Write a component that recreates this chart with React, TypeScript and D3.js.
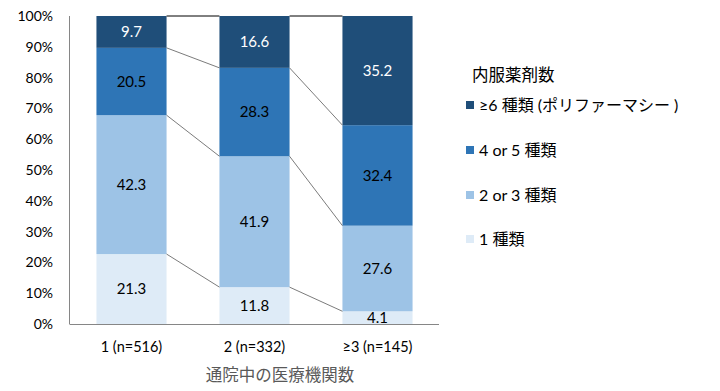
import React from "react";
import * as d3 from "d3";

const categories = ["1 (n=516)", "2 (n=332)", "≥3 (n=145)"];
const seriesNames = ["1 種類", "2 or 3 種類", "4 or 5 種類", "≥6 種類 (ポリファーマシー )"];
const s1 = [21.3, 11.8, 4.1];
const s2 = [42.3, 41.9, 27.6];
const s3 = [20.5, 28.3, 32.4];
const s4 = [9.7, 16.6, 35.2];
const yTicks = [0, 0.1, 0.2, 0.3, 0.4, 0.5, 0.6, 0.7, 0.8, 0.9, 1];
const colors = ["#DEEBF7", "#9DC3E6", "#2E75B6", "#1F4E79"];
const labelColors = ["#000", "#000", "#000", "#fff"];
const legendTitle = "内服薬剤数";
const xTitle = "通院中の医療機関数";

const W = 720, H = 391;
const left = 70, right = 439, top = 16, bottom = 324;
const FONT = "Lato, 'Noto Sans CJK JP', sans-serif";

export default function App() {
  const seriesVals = [s1, s2, s3, s4];
  const rows = categories.map((c, i) => {
    const r: any = { cat: c };
    seriesNames.forEach((s, j) => (r[s] = seriesVals[j][i]));
    return r;
  });
  const stacked = d3.stack().keys(seriesNames).offset(d3.stackOffsetExpand)(rows);
  const x = d3.scaleBand().domain(categories).range([left, right]).paddingInner(0.43).paddingOuter(0.215);
  const y = d3.scaleLinear().domain([0, 1]).range([bottom, top]);
  const bw = x.bandwidth();

  const lines: any[] = [];
  stacked.forEach((ser, si) => {
    for (let i = 0; i < categories.length - 1; i++) {
      lines.push({
        x1: (x(categories[i]) as number) + bw,
        y1: y(ser[i][1]),
        x2: x(categories[i + 1]) as number,
        y2: y(ser[i + 1][1]),
        top: si === stacked.length - 1,
      });
    }
  });

  const legendOrder = [3, 2, 1, 0];
  const legendY = [105, 150, 195, 239];

  return (
    <svg width={W} height={H} style={{ position: "absolute", left: 0, top: 0, background: "#fff" }} fontFamily={FONT}>
      {stacked.map((ser, si) =>
        ser.map((d, i) => (
          <rect key={`r${si}-${i}`} x={x(categories[i])} y={y(d[1])} width={bw} height={y(d[0]) - y(d[1])} fill={colors[si]} />
        ))
      )}
      {lines.map((l, i) => (
        <line key={`l${i}`} x1={l.x1} y1={l.y1} x2={l.x2} y2={l.y2} stroke={l.top ? "#000" : "#595959"} strokeWidth={l.top ? 1 : 0.8} />
      ))}
      {stacked.map((ser, si) =>
        ser.map((d, i) => (
          <text key={`t${si}-${i}`} x={(x(categories[i]) as number) + bw / 2} y={(y(d[0]) + y(d[1])) / 2} dy="0.36em" textAnchor="middle" fontSize={15} fill={labelColors[si]}>
            {seriesVals[si][i].toFixed(1)}
          </text>
        ))
      )}
      <line x1={left - 0.5} y1={top} x2={left - 0.5} y2={bottom} stroke="#868686" strokeWidth={1} />
      <line x1={left - 0.5} y1={bottom + 0.5} x2={right} y2={bottom + 0.5} stroke="#868686" strokeWidth={1} />
      {yTicks.map((t) => (
        <text key={`y${t}`} x={53} y={y(t)} dy="0.36em" textAnchor="end" fontSize={14} fill="#000">
          {d3.format(".0%")(t)}
        </text>
      ))}
      {categories.map((c) => (
        <text key={`x${c}`} x={(x(c) as number) + bw / 2} y={352} textAnchor="middle" fontSize={14.5} fill="#000">
          {c}
        </text>
      ))}
      <text x={280} y={381} textAnchor="middle" fontSize={16.5} fill="#595959">{xTitle}</text>
      <text x={472} y={81} fontSize={16.5} fill="#000">{legendTitle}</text>
      {legendOrder.map((si, k) => (
        <g key={`lg${si}`}>
          <rect x={466} y={legendY[k] - 4} width={8} height={8} fill={colors[si]} />
          <text x={479} y={legendY[k]} dy="0.36em" fontSize={16} fill="#000">{seriesNames[si]}</text>
        </g>
      ))}
    </svg>
  );
}
